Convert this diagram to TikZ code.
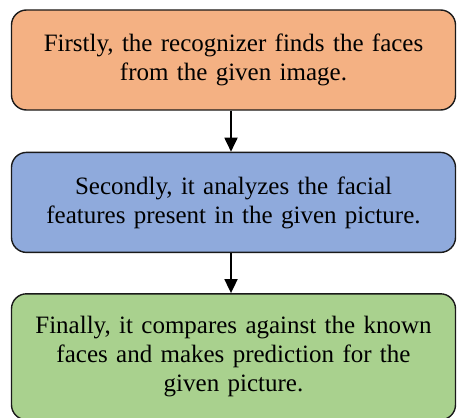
\documentclass[tikz,border=0pt]{standalone}
\usepackage{fontspec}
\setmainfont{Liberation Serif}
\usetikzlibrary{positioning,arrows.meta}

\definecolor{findorange}{HTML}{F4B183}
\definecolor{analyzeblue}{HTML}{8FAADC}
\definecolor{comparegreen}{HTML}{A9D18E}
\definecolor{edgegray}{HTML}{1A1A1A}

\begin{document}
\begin{tikzpicture}[x=1pt, y=1pt]
    \tikzstyle{every node} = [align=center, font=\fontsize{25}{29}\selectfont]
    \tikzstyle{stage} = [draw=edgegray, line width=1.4pt, rounded corners=15pt,
        text width=436pt, inner sep=4pt, minimum height=100pt]
    \tikzstyle{find} = [fill=findorange]
    \tikzstyle{analyze} = [fill=analyzeblue]
    \tikzstyle{compare} = [fill=comparegreen, minimum height=126pt]
    \tikzstyle{flow} = [line width=1.8pt, -{Triangle[length=14pt, width=13pt]}]
    \useasboundingbox (0,0) rectangle (457,-417);
    \clip (0,0) rectangle (457,-417);
    \node [stage, find] (finder) at (233.5,-60)
        {Firstly, the recognizer finds the faces\\ from the given image.};
    \node [stage, analyze, below=41pt of finder] (analyzer)
        {Secondly, it analyzes the facial\\ features present in the given picture.};
    \node [stage, compare, below=40pt of analyzer] (comparer)
        {Finally, it compares against the known\\ faces and makes prediction for the\\ given picture.};
    \draw [flow] (finder.south -| 231,0) -- (analyzer.north -| 231,0);
    \draw [flow] (analyzer.south -| 231,0) -- (comparer.north -| 231,0);
\end{tikzpicture}
\end{document}
